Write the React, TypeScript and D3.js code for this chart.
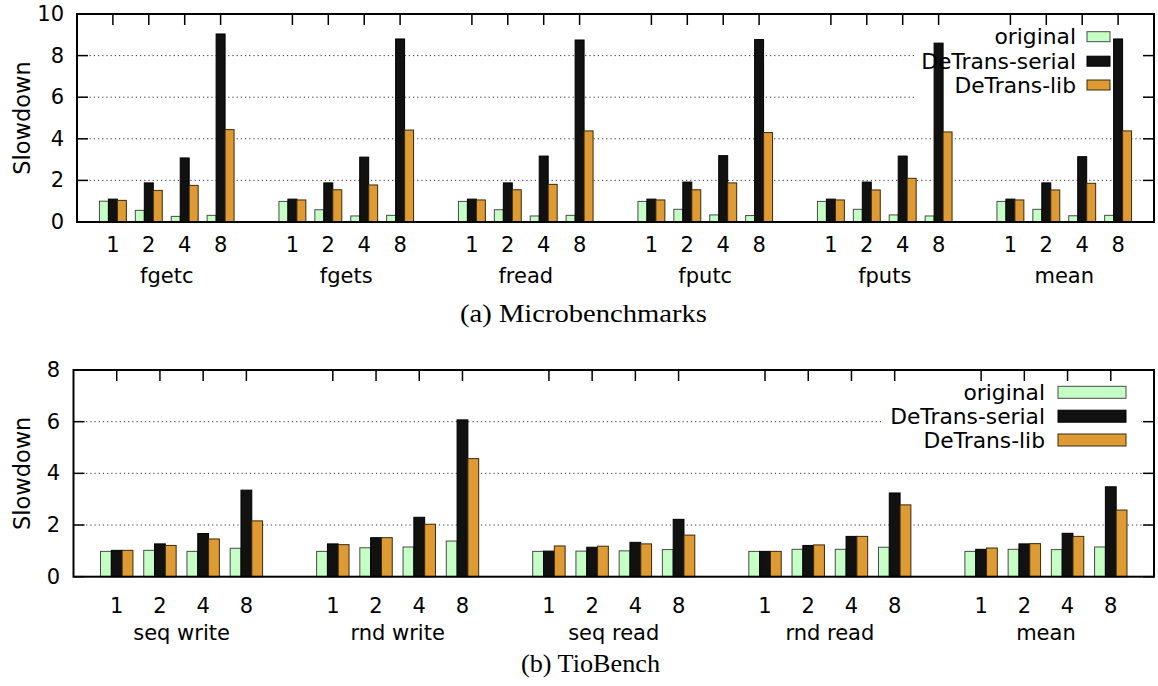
import React from "react";
import * as d3 from "d3";

// ---------- data ----------
const threadLabels = ["1", "2", "4", "8"];
const seriesNames = ["original", "DeTrans-serial", "DeTrans-lib"];
const seriesColors = ["#c6ffc6", "#111111", "#de9a33"];
const seriesStrokes = ["#4a4a4a", "#000000", "#3a2a10"];

const microGroups = ["fgetc", "fgets", "fread", "fputc", "fputs", "mean"];
const microOriginal = [
  1.0, 0.56, 0.27, 0.32,
  0.99, 0.59, 0.29, 0.32,
  0.99, 0.59, 0.29, 0.32,
  0.99, 0.61, 0.34, 0.31,
  0.99, 0.61, 0.34, 0.29,
  0.99, 0.61, 0.3, 0.32,
];
const microSerial = [
  1.1, 1.88, 3.08, 9.04,
  1.1, 1.88, 3.12, 8.8,
  1.1, 1.88, 3.17, 8.75,
  1.1, 1.92, 3.19, 8.77,
  1.1, 1.92, 3.17, 8.6,
  1.1, 1.88, 3.14, 8.8,
];
const microLib = [
  1.04, 1.52, 1.76, 4.44,
  1.06, 1.55, 1.78, 4.42,
  1.06, 1.55, 1.81, 4.38,
  1.06, 1.55, 1.88, 4.3,
  1.06, 1.54, 2.1, 4.33,
  1.06, 1.54, 1.86, 4.38,
];
const microYTicks = [0, 2, 4, 6, 8, 10];

const tioGroups = ["seq write", "rnd write", "seq read", "rnd read", "mean"];
const tioOriginal = [
  0.98, 1.02, 0.98, 1.1,
  0.98, 1.12, 1.15, 1.38,
  0.98, 0.99, 1.0, 1.05,
  0.98, 1.06, 1.06, 1.14,
  0.98, 1.06, 1.05, 1.15,
];
const tioSerial = [
  1.02, 1.27, 1.67, 3.35,
  1.27, 1.51, 2.3, 6.07,
  0.99, 1.14, 1.33, 2.22,
  0.98, 1.21, 1.56, 3.24,
  1.06, 1.27, 1.68, 3.48,
];
const tioLib = [
  1.02, 1.21, 1.46, 2.16,
  1.24, 1.51, 2.03, 4.57,
  1.19, 1.18, 1.27, 1.61,
  0.98, 1.23, 1.56, 2.78,
  1.11, 1.28, 1.56, 2.58,
];
const tioYTicks = [0, 2, 4, 6, 8];

const FONT = "'DejaVu Sans', sans-serif";
const CAPTION_FONT = "'Liberation Serif', 'DejaVu Serif', serif";
const FS = 21;

type PanelProps = {
  groups: string[];
  values: number[][];
  yMax: number;
  yTicks: number[];
  left: number;
  right: number;
  top: number;
  bottom: number;
  tickLabelY: number;
  groupLabelY: number;
  caption: string;
  captionX: number;
  captionY: number;
  captionWidth: number;
  labelRight: number;
  legend: { x0: number; x1: number; y1: number; textRight: number; swX: number; swW: number; swH: number; rowY: number[] };
};

function Panel(p: PanelProps) {
  const nSlots = p.groups.length * 5 - 1; // 4 bars + 1 gap per group
  const x = d3.scaleLinear().domain([-1, nSlots]).range([p.left, p.right]);
  const y = d3.scaleLinear().domain([0, p.yMax]).range([p.bottom, p.top]);
  const slotW = x(1) - x(0);
  const barW = slotW / 4;
  const slotOf = (g: number, j: number) => g * 5 + j;

  const tickLen = 11;
  const gridY = p.yTicks.filter((t) => t > 0 && t < p.yMax);

  return (
    <g>
      {/* dotted grid */}
      {gridY.map((t) => (
        <line
          key={"g" + t}
          x1={p.left}
          x2={p.right}
          y1={y(t)}
          y2={y(t)}
          stroke="#333"
          strokeWidth={1}
          strokeDasharray="1.2,3"
        />
      ))}
      {/* opaque key background */}
      <rect
        x={p.legend.x0}
        y={p.top + 1}
        width={p.legend.x1 - p.legend.x0}
        height={p.legend.y1 - p.top - 1}
        fill="#fff"
      />
      {/* bars */}
      {p.groups.map((_, g) =>
        threadLabels.map((_, j) => {
          const cx = x(slotOf(g, j));
          return p.values.map((vals, s) => {
            const v = vals[g * 4 + j];
            const bx = cx - 1.5 * barW + s * barW;
            return (
              <rect
                key={`b${g}-${j}-${s}`}
                x={bx}
                y={y(v)}
                width={barW}
                height={y(0) - y(v)}
                fill={seriesColors[s]}
                stroke={seriesStrokes[s]}
                strokeWidth={1}
              />
            );
          });
        })
      )}
      {/* border */}
      <rect
        x={p.left}
        y={p.top}
        width={p.right - p.left}
        height={p.bottom - p.top}
        fill="none"
        stroke="#000"
        strokeWidth={2}
      />
      {/* y ticks, both sides */}
      {p.yTicks.map((t) => (
        <g key={"yt" + t}>
          <line x1={p.left} x2={p.left + tickLen} y1={y(t)} y2={y(t)} stroke="#000" strokeWidth={1.5} />
          <line x1={p.right - tickLen} x2={p.right} y1={y(t)} y2={y(t)} stroke="#000" strokeWidth={1.5} />
          <text
            x={p.labelRight}
            y={y(t)}
            textAnchor="end"
            dominantBaseline="central"
            fontFamily={FONT}
            fontSize={FS}
          >
            {t}
          </text>
        </g>
      ))}
      {/* x ticks (mirrored at top) and labels */}
      {p.groups.map((name, g) => (
        <g key={"xg" + g}>
          {threadLabels.map((lab, j) => {
            const cx = x(slotOf(g, j));
            return (
              <g key={"xt" + j}>
                <line x1={cx} x2={cx} y1={p.top} y2={p.top + tickLen} stroke="#000" strokeWidth={1.5} />
                <text
                  x={cx}
                  y={p.tickLabelY}
                  textAnchor="middle"
                  dominantBaseline="central"
                  fontFamily={FONT}
                  fontSize={FS}
                >
                  {lab}
                </text>
              </g>
            );
          })}
          <text
            x={x(slotOf(g, 1.5))}
            y={p.groupLabelY}
            textAnchor="middle"
            dominantBaseline="central"
            fontFamily={FONT}
            fontSize={FS}
          >
            {name}
          </text>
        </g>
      ))}
      {/* y axis title */}
      <text
        transform={`translate(22,${(p.top + p.bottom) / 2}) rotate(-90)`}
        textAnchor="middle"
        dominantBaseline="central"
        fontFamily={FONT}
        fontSize={22.5}
      >
        Slowdown
      </text>
      {/* key */}
      {seriesNames.map((name, s) => (
        <g key={"k" + s}>
          <text
            x={p.legend.textRight}
            y={p.legend.rowY[s]}
            textAnchor="end"
            dominantBaseline="central"
            fontFamily={FONT}
            fontSize={21.8}
          >
            {name}
          </text>
          <rect
            x={p.legend.swX}
            y={p.legend.rowY[s] - p.legend.swH / 2}
            width={p.legend.swW}
            height={p.legend.swH}
            fill={seriesColors[s]}
            stroke={seriesStrokes[s]}
            strokeWidth={1}
          />
        </g>
      ))}
      {/* caption */}
      <text
        x={p.captionX}
        y={p.captionY}
        textAnchor="middle"
        dominantBaseline="central"
        fontFamily={CAPTION_FONT}
        fontSize={25}
        textLength={p.captionWidth}
        lengthAdjust="spacingAndGlyphs"
      >
        {p.caption}
      </text>
    </g>
  );
}

export default function App() {
  return (
    <svg
      width={1158}
      height={686}
      style={{ position: "absolute", left: 0, top: 0, background: "#fff" }}
    >
      <rect width={1158} height={686} fill="#fff" />
      <Panel
        groups={microGroups}
        values={[microOriginal, microSerial, microLib]}
        yMax={10}
        yTicks={microYTicks}
        left={77}
        right={1154}
        top={14}
        bottom={222}
        tickLabelY={245}
        groupLabelY={276}
        caption="(a)  Microbenchmarks"
        captionX={583.5}
        captionY={313}
        captionWidth={247}
        labelRight={64}
        legend={{ x0: 916, x1: 1141, y1: 100, textRight: 1076, swX: 1087, swW: 23, swH: 10, rowY: [36.7, 61.2, 85] }}
      />
      <Panel
        groups={tioGroups}
        values={[tioOriginal, tioSerial, tioLib]}
        yMax={8}
        yTicks={tioYTicks}
        left={73.5}
        right={1154}
        top={370}
        bottom={576.7}
        tickLabelY={606}
        groupLabelY={633}
        caption="(b)  TioBench"
        captionX={590.5}
        captionY={663}
        captionWidth={139}
        labelRight={60}
        legend={{ x0: 881, x1: 1141, y1: 452, textRight: 1045, swX: 1058, swW: 68, swH: 12, rowY: [392.3, 416.2, 440] }}
      />
    </svg>
  );
}
